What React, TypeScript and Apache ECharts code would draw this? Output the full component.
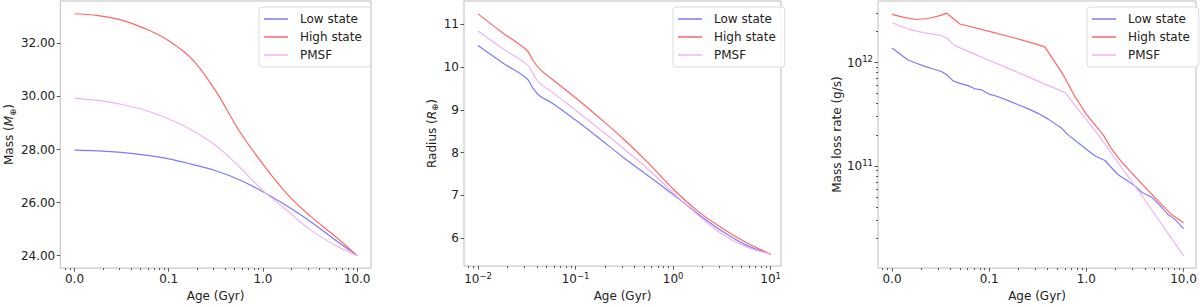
import { useEffect, useRef } from "react";
import * as echarts from "echarts";

// ---------- data ----------
const SERIES_NAMES = ["Low state", "High state", "PMSF"];

// Panel 1: Mass (Earth masses) vs age (Gyr)
const MASS_AGES = [0.01, 0.0178, 0.0316, 0.0562, 0.1, 0.178, 0.316, 0.562, 1, 1.78, 3.16, 5.62, 10];
const MASS_LOW = [27.98, 27.95, 27.89, 27.79, 27.65, 27.44, 27.2, 26.86, 26.41, 25.88, 25.3, 24.64, 24.0];
const MASS_HIGH = [33.12, 33.05, 32.88, 32.56, 32.1, 31.4, 30.2, 28.7, 27.45, 26.35, 25.5, 24.78, 24.0];
const MASS_PMSF = [29.93, 29.85, 29.7, 29.48, 29.15, 28.72, 28.15, 27.35, 26.45, 25.72, 24.98, 24.42, 24.0];

// Panel 2: Radius (Earth radii) vs age (Gyr)
const RADIUS_AGES = [0.01, 0.0178, 0.0316, 0.0366, 0.043, 0.0562, 0.1, 0.178, 0.316, 0.562, 1, 1.78, 3.16, 5.62, 10];
const RADIUS_LOW = [10.5, 10.1, 9.73, 9.5, 9.32, 9.17, 8.76, 8.32, 7.87, 7.45, 7.02, 6.58, 6.17, 5.84, 5.63];
const RADIUS_HIGH = [11.24, 10.8, 10.39, 10.15, 9.95, 9.73, 9.28, 8.8, 8.3, 7.75, 7.15, 6.64, 6.24, 5.9, 5.63];
const RADIUS_PMSF = [10.84, 10.43, 10.06, 9.85, 9.61, 9.43, 8.99, 8.54, 8.08, 7.6, 7.06, 6.55, 6.1, 5.8, 5.63];

// Panel 3: Mass loss rate (g/s) vs age (Gyr)
const RATE_LOW_AGES = [
  0.01, 0.012, 0.0146, 0.0178, 0.0217, 0.0265, 0.0318, 0.0363, 0.0426, 0.0499, 0.0608, 0.0712, 0.0834, 0.1,
  0.124, 0.157, 0.199, 0.253, 0.318, 0.406, 0.562, 0.653, 0.828, 1.0, 1.229, 1.559, 1.783, 2.139, 2.713, 3.177,
  3.723, 4.72, 5.617, 7.01, 8.21, 10.0,
];
const RATE_LOW = [
  1.386e12, 1.22e12, 1.058e12, 9.85e11, 9.18e11, 8.67e11, 8.25e11, 7.68e11, 6.66e11, 6.3e11, 5.99e11, 5.58e11,
  5.46e11, 4.95e11, 4.67e11, 4.29e11, 3.91e11, 3.57e11, 3.23e11, 2.84e11, 2.3e11, 1.99e11, 1.67e11, 1.45e11,
  1.25e11, 1.13e11, 9.78e10, 8.19e10, 7.1e10, 6.39e10, 5.54e10, 4.98e10, 4.23e10, 3.37e10, 3.03e10, 2.48e10,
];
const RATE_HIGH_AGES = [
  0.01, 0.01352, 0.0178, 0.0235, 0.0318, 0.0363, 0.0426, 0.0499, 0.1, 0.1783, 0.318, 0.375, 0.562, 0.765, 1.0,
  1.498, 1.783, 2.315, 3.177, 4.36, 5.617, 7.59, 10.0,
];
const RATE_HIGH = [
  2.92e12, 2.72e12, 2.61e12, 2.67e12, 2.86e12, 3.01e12, 2.67e12, 2.36e12, 2.0e12, 1.74e12, 1.49e12, 1.41e12,
  7.96e11, 4.67e11, 3.16e11, 1.99e11, 1.5e11, 1.09e11, 7.91e10, 5.74e10, 4.48e10, 3.37e10, 2.82e10,
];
const RATE_PMSF_AGES = [0.01, 0.0146, 0.0217, 0.0318, 0.0363, 0.0443, 0.1, 0.178, 0.318, 0.603, 1.33, 3.72, 10.0];
const RATE_PMSF = [2.43e12, 2.11e12, 1.94e12, 1.83e12, 1.74e12, 1.46e12, 1.05e12, 8.37e11, 6.62e11, 5.12e11, 1.99e11, 5.16e10, 1.357e10];

// Tick labels
const AGE_TICKS = [0.01, 0.1, 1, 10];
const MASS_TICKS = [24, 26, 28, 30, 32];
const RADIUS_TICKS = [6, 7, 8, 9, 10, 11];
const RATE_TICKS = [1e11, 1e12];

// ---------- style ----------
const FONT = "DejaVu Sans";
const TEXT = "#222";
const FRAME = "#bdbdbd";
const TICK = "#555";
const COLORS = ["#7b7bff", "#ff6666", "#f3b3f3"];

const minorLog = (lo: number, hi: number) => {
  const out: number[] = [];
  for (let e = lo; e <= hi; e++) for (let m = 2; m <= 9; m++) out.push(m * Math.pow(10, e));
  return out;
};

const pow10 = (v: number) => Math.round(Math.log10(v));
const supLabel = (v: number) => {
  const e = pow10(v);
  return `{b|10}{s|${e < 0 ? "\u2212" + -e : e}}`;
};
const supRich = {
  b: { fontSize: 12, fontFamily: FONT, color: TEXT, lineHeight: 16, verticalAlign: "middle" },
  s: { fontSize: 8.5, fontFamily: FONT, color: TEXT, lineHeight: 8, verticalAlign: "top" },
};
const nameRich = {
  i: { fontSize: 12, fontFamily: FONT, color: TEXT, fontStyle: "italic", lineHeight: 16, verticalAlign: "middle" },
  u: { fontSize: 8.5, fontFamily: FONT, color: TEXT, lineHeight: 8, verticalAlign: "bottom" },
};

const GRIDS = [
  { left: 51, top: 1, width: 320, height: 278 },
  { left: 464, top: 1, width: 317, height: 278 },
  { left: 878, top: 1, width: 318, height: 278 },
];
const X_RANGES = [
  [Math.pow(10, -2.151), Math.pow(10, 1.147)],
  [Math.pow(10, -2.144), Math.pow(10, 1.106)],
  [Math.pow(10, -2.144), Math.pow(10, 1.128)],
];

function App() {
  const ref = useRef<HTMLDivElement>(null);
  useEffect(() => {
    if (!ref.current) return;
    const chart = echarts.init(ref.current, null, { renderer: "svg" });

    const labelStyle = { fontSize: 12, fontFamily: FONT, color: TEXT };

    const xAxes: any[] = [];
    X_RANGES.forEach(([min, max], gi) => {
      xAxes.push({
        type: "log",
        gridIndex: gi,
        min,
        max,
        name: "Age (Gyr)",
        nameLocation: "middle",
        nameGap: 20,
        nameTextStyle: { ...labelStyle },
        axisLine: { show: false },
        splitLine: { show: false },
        axisTick: { show: true, length: 3.5, lineStyle: { color: TICK }, customValues: AGE_TICKS },
        axisLabel: {
          ...labelStyle,
          margin: 5,
          customValues: AGE_TICKS,
          formatter: gi === 1 ? (v: number) => supLabel(v) : (v: number) => v.toFixed(1),
          rich: gi === 1 ? supRich : undefined,
        },
      });
      xAxes.push({
        type: "log",
        gridIndex: gi,
        position: "bottom",
        min,
        max,
        axisLine: { show: false },
        splitLine: { show: false },
        axisLabel: { show: false },
        axisTick: {
          show: true,
          length: 2,
          lineStyle: { color: TICK },
          customValues: minorLog(-3, 1).filter((v) => v > min && v < max),
        },
      });
    });

    const yAxes: any[] = [
      {
        type: "value",
        gridIndex: 0,
        min: 23.53,
        max: 33.6,
        name: "Mass ({i|M}{u|\u2295})",
        nameLocation: "middle",
        nameGap: 42,
        nameTextStyle: { ...labelStyle, lineHeight: 16, rich: nameRich },
        axisLine: { show: false },
        splitLine: { show: false },
        axisTick: { show: true, length: 3.5, lineStyle: { color: TICK }, customValues: MASS_TICKS },
        axisLabel: { ...labelStyle, margin: 5, customValues: MASS_TICKS, formatter: (v: number) => v.toFixed(2) },
      },
      {
        type: "value",
        gridIndex: 1,
        min: 5.35,
        max: 11.54,
        name: "Radius ({i|R}{u|\u2295})",
        nameLocation: "middle",
        nameGap: 14,
        nameTextStyle: { ...labelStyle, lineHeight: 16, rich: nameRich },
        axisLine: { show: false },
        splitLine: { show: false },
        axisTick: { show: true, length: 3.5, lineStyle: { color: TICK }, customValues: RADIUS_TICKS },
        axisLabel: { ...labelStyle, margin: 5, customValues: RADIUS_TICKS, formatter: (v: number) => String(v) },
      },
      {
        type: "log",
        gridIndex: 2,
        min: 1.03e10,
        max: 3.94e12,
        name: "Mass loss rate (g/s)",
        nameLocation: "middle",
        nameGap: 28,
        nameTextStyle: { ...labelStyle },
        axisLine: { show: false },
        splitLine: { show: false },
        axisTick: { show: true, length: 3.5, lineStyle: { color: TICK }, customValues: RATE_TICKS },
        axisLabel: { ...labelStyle, margin: 5, customValues: RATE_TICKS, formatter: (v: number) => supLabel(v), rich: supRich },
      },
      {
        type: "log",
        gridIndex: 2,
        position: "left",
        min: 1.03e10,
        max: 3.94e12,
        axisLine: { show: false },
        splitLine: { show: false },
        axisLabel: { show: false },
        axisTick: {
          show: true,
          length: 2,
          lineStyle: { color: TICK },
          customValues: minorLog(10, 12).filter((v) => v < 3.94e12 && v > 1.03e10),
        },
      },
    ];

    const mk = (name: string, ages: number[], vals: number[], panel: number, color: string, smooth: boolean) => ({
      type: "line",
      name,
      xAxisIndex: panel * 2,
      yAxisIndex: panel,
      data: ages.map((a, i) => [a, vals[i]]),
      symbol: "none",
      smooth: smooth ? 0.4 : false,
      lineStyle: { color, width: 1.2 },
      itemStyle: { color },
      z: 3,
    });

    const series = [
      mk(SERIES_NAMES[0], MASS_AGES, MASS_LOW, 0, COLORS[0], true),
      mk(SERIES_NAMES[1], MASS_AGES, MASS_HIGH, 0, COLORS[1], true),
      mk(SERIES_NAMES[2], MASS_AGES, MASS_PMSF, 0, COLORS[2], true),
      mk(SERIES_NAMES[0], RADIUS_AGES, RADIUS_LOW, 1, COLORS[0], true),
      mk(SERIES_NAMES[1], RADIUS_AGES, RADIUS_HIGH, 1, COLORS[1], true),
      mk(SERIES_NAMES[2], RADIUS_AGES, RADIUS_PMSF, 1, COLORS[2], true),
      mk(SERIES_NAMES[0], RATE_LOW_AGES, RATE_LOW, 2, COLORS[0], false),
      mk(SERIES_NAMES[1], RATE_HIGH_AGES, RATE_HIGH, 2, COLORS[1], false),
      mk(SERIES_NAMES[2], RATE_PMSF_AGES, RATE_PMSF, 2, COLORS[2], false),
    ];

    const legendLefts = [259, 673, 1087];
    const legends = legendLefts.map((left) => ({
      data: SERIES_NAMES,
      orient: "vertical",
      left,
      top: 7,
      icon: "rect",
      itemWidth: 24,
      itemHeight: 1.5,
      itemGap: 4,
      padding: [5, 9, 5, 5],
      backgroundColor: "rgba(255,255,255,0.85)",
      borderColor: "#dcdcdc",
      borderWidth: 1,
      borderRadius: 3,
      selectedMode: false,
      textStyle: { ...labelStyle, padding: [0, 0, 0, 7], lineHeight: 14 },
    }));

    chart.setOption({
      animation: false,
      backgroundColor: "#ffffff",
      textStyle: { fontFamily: FONT },
      grid: GRIDS.map((g) => ({ ...g, show: true, borderColor: FRAME, borderWidth: 1, backgroundColor: "transparent" })),
      legend: legends,
      xAxis: xAxes,
      yAxis: yAxes,
      series,
    });
    return () => chart.dispose();
  }, []);

  return <div ref={ref} style={{ position: "fixed", left: 0, top: 0, width: 1200, height: 307 }} />;
}

export default App;
